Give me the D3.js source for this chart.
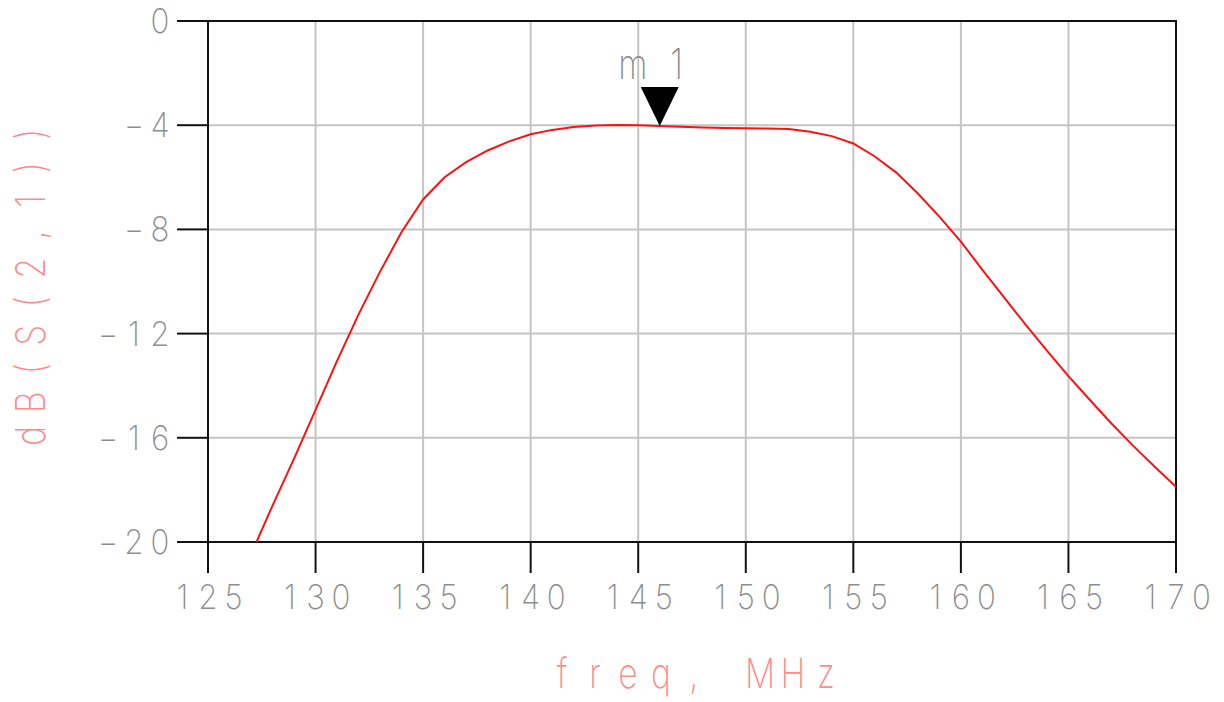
<!DOCTYPE html>
<html>
<head>
<meta charset="utf-8">
<script src="https://cdn.jsdelivr.net/npm/d3@7/dist/d3.min.js"></script>
<style>
  html, body { margin: 0; padding: 0; background: #fff; }
  svg { display: block; }
  text { font-family: Inter, "DejaVu Sans", sans-serif; font-weight: 200; }
</style>
</head>
<body>
<svg id="chart" width="1224" height="702"></svg>
<script>
// S21 sweep of the band-pass filter, 1 MHz steps
const freqMHz = [127, 128, 129, 130, 131, 132, 133, 134, 135, 136, 137, 138, 139, 140,
  141, 142, 143, 144, 145, 146, 147, 148, 149, 150, 151, 152, 153, 154, 155, 156,
  157, 158, 159, 160, 161, 162, 163, 164, 165, 166, 167, 168, 169, 170];
const s21dB = [-20.48, -18.6, -16.8, -14.93, -13.05, -11.26, -9.62, -8.1, -6.85, -6.0,
  -5.42, -4.97, -4.62, -4.35, -4.18, -4.07, -4.01, -3.99, -4.0, -4.03, -4.06, -4.09,
  -4.11, -4.12, -4.13, -4.15, -4.25, -4.42, -4.70, -5.2, -5.82, -6.62, -7.51, -8.47,
  -9.55, -10.6, -11.65, -12.65, -13.63, -14.55, -15.45, -16.3, -17.1, -17.88];
const xTicks = [125, 130, 135, 140, 145, 150, 155, 160, 165, 170];
const yTicks = [0, -4, -8, -12, -16, -20];
const markerName = "m1";
const markerFreq = 146;
const markerValue = -4.03;
const xTitle = "freq, MHz";
const yTitle = "dB(S(2,1))";

const svg = d3.select("#chart");
const plotL = 208, plotR = 1176, plotT = 21, plotB = 542;
const x = d3.scaleLinear().domain([125, 170]).range([plotL, plotR]);
const y = d3.scaleLinear().domain([-20, 0]).range([plotB, plotT]);

// Evenly spaced glyphs: every character sits at its own fixed slot,
// optionally squeezed horizontally by o.sx
function plotText(sel, str, o) {
  const n = str.length, sx = o.sx || 1;
  const offs = d3.range(n).map(i => o.anchor === "end"
    ? -(n - 1 - i) * o.adv
    : (i - (n - 1) / 2) * o.adv);
  const g = sel.append("g")
    .attr("transform", `translate(${o.x},${o.y}) rotate(${o.rotate || 0})`);
  g.append("text")
    .attr("transform", `scale(${sx},1)`)
    .attr("x", offs.map(v => (v / sx).toFixed(2)).join(" "))
    .attr("y", 0)
    .attr("text-anchor", "middle")
    .attr("font-size", o.size)
    .attr("fill", o.color)
    .text(str);
  return g;
}

// grid
const grid = svg.append("g");
grid.selectAll("line.v").data(xTicks.slice(1, -1)).join("line")
  .attr("x1", d => x(d)).attr("x2", d => x(d))
  .attr("y1", plotT).attr("y2", plotB)
  .attr("stroke", "#c4c4c4").attr("stroke-width", 2);
grid.selectAll("line.h").data(yTicks.slice(1, -1)).join("line")
  .attr("x1", plotL).attr("x2", plotR)
  .attr("y1", d => y(d)).attr("y2", d => y(d))
  .attr("stroke", "#c4c4c4").attr("stroke-width", 2);

// frame and ticks
const frame = svg.append("g").attr("stroke", "#111").attr("stroke-width", 2);
frame.append("rect").attr("x", plotL).attr("y", plotT)
  .attr("width", plotR - plotL).attr("height", plotB - plotT).attr("fill", "none");
frame.selectAll("line.yt").data(yTicks).join("line")
  .attr("x1", plotL - 31).attr("x2", plotL)
  .attr("y1", d => y(d)).attr("y2", d => y(d));
frame.selectAll("line.xt").data(xTicks).join("line")
  .attr("x1", d => x(d)).attr("x2", d => x(d))
  .attr("y1", plotB).attr("y2", plotB + 31);

// tick labels
xTicks.forEach(t => plotText(svg, String(t), {
  x: x(t), y: y(-20) + 67, adv: 25.5, size: 34, sx: 0.92, color: "#8e8e8e"
}));
yTicks.forEach(t => plotText(svg, t < 0 ? "\u2212" + Math.abs(t) : String(t), {
  x: 160, y: y(t) + 12, adv: 26, size: 34, sx: 0.92, color: "#8e8e8e", anchor: "end"
}));

// curve, clipped to the plot area
svg.append("clipPath").attr("id", "plotclip").append("rect")
  .attr("x", plotL).attr("y", plotT).attr("width", plotR - plotL).attr("height", plotB - plotT);
const line = d3.line().x(d => x(d[0])).y(d => y(d[1]));
svg.append("path")
  .datum(freqMHz.map((f, i) => [f, s21dB[i]]))
  .attr("clip-path", "url(#plotclip)")
  .attr("d", line)
  .attr("fill", "none").attr("stroke", "#ff1010").attr("stroke-width", 2);

// marker
const mx = x(markerFreq), my = y(markerValue);
svg.append("path")
  .attr("d", `M${mx},${my} L${mx - 19},${my - 39} L${mx + 19},${my - 39} Z`)
  .attr("fill", "#000");
const mLbl = svg.append("g").attr("transform", `translate(${mx - 5},${my - 47})`);
plotText(mLbl, markerName, { x: 0, y: 0, adv: 44, size: 42, sx: 0.8, color: "#8e8e8e" });

// axis titles
plotText(svg, xTitle, { x: 694, y: 688, adv: 33, size: 41, sx: 0.82, color: "#ff8a8a" });
plotText(svg, yTitle, { x: 45, y: 285, adv: 33.5, size: 41, sx: 0.82, color: "#ff8a8a", rotate: -90 });
</script>
</body>
</html>
